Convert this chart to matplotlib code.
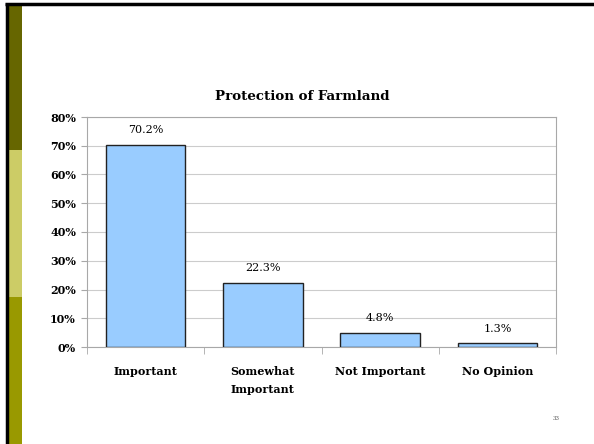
import matplotlib
matplotlib.use("Agg")
import matplotlib.pyplot as plt
from matplotlib.patches import Rectangle
from matplotlib.lines import Line2D
from matplotlib.ticker import FuncFormatter, FixedLocator

categories = ["Important", "Somewhat\nImportant", "Not Important", "No Opinion"]
values = [70.2, 22.3, 4.8, 1.3]
value_labels = ["70.2%", "22.3%", "4.8%", "1.3%"]
yticks = [0, 10, 20, 30, 40, 50, 60, 70, 80]

plt.rcParams['font.family'] = ['DejaVu Serif']

fig = plt.figure(figsize=(5.94, 4.44), dpi=100)
W, H = 594, 444

def fx(x):
    return x / W

def fy(y):
    return 1 - y / H

# slide decoration: colored strip and black border
strip = [("#666600", 5, 150), ("#CCCC66", 150, 297), ("#999900", 297, 444)]
for c, y0, y1 in strip:
    fig.patches.append(Rectangle((fx(9), fy(y1)), fx(13), (y1 - y0) / H,
                                 transform=fig.transFigure, facecolor=c, edgecolor='none'))
fig.lines.append(Line2D([fx(6.5), fx(6.5)], [fy(3), 0], transform=fig.transFigure,
                        color='black', lw=2.5, solid_capstyle='butt'))
fig.lines.append(Line2D([fx(5), 1], [fy(4.5), fy(4.5)], transform=fig.transFigure,
                        color='black', lw=2.5, solid_capstyle='butt'))

ax = fig.add_axes([fx(87), fy(347), fx(556) - fx(87), (347 - 117) / H])
x = list(range(len(categories)))
bars = ax.bar(x, values, width=0.68, color='#99CCFF', edgecolor='#222222', linewidth=1.0, zorder=3)
ax.set_xlim(-0.5, len(categories) - 0.5)
ax.set_ylim(0, 80)
ax.set_yticks(yticks)
ax.yaxis.set_major_formatter(FuncFormatter(lambda v, p: f"{int(v)}%"))
ax.grid(axis='y', color='#cccccc', lw=0.8, zorder=0)
for s in ax.spines.values():
    s.set_color('#a8a8a8')
    s.set_linewidth(0.8)
ax.set_xticks(x)
ax.set_xticklabels(categories, fontsize=8, fontweight='bold', linespacing=1.7, va='top')
ax.xaxis.set_minor_locator(FixedLocator([i - 0.5 for i in range(len(categories) + 1)]))
ax.tick_params(axis='x', which='major', length=0, pad=14)
ax.tick_params(axis='x', which='minor', length=5, color='#a8a8a8')
ax.tick_params(axis='y', length=4, color='#a8a8a8', labelsize=8, pad=4)
for lab in ax.get_yticklabels():
    lab.set_fontweight('bold')

for xi, v, lab in zip(x, values, value_labels):
    ax.annotate(lab, (xi, v), xytext=(0, 7), textcoords='offset points',
                ha='center', va='bottom', fontsize=8)

fig.text(fx(302), fy(97), "Protection of Farmland", ha='center', va='center',
         fontsize=9.6, fontweight='bold')
fig.text(fx(556), fy(418), "33", ha='center', va='center', fontsize=4, color='#555555')

fig.savefig("out.png", dpi=100)
